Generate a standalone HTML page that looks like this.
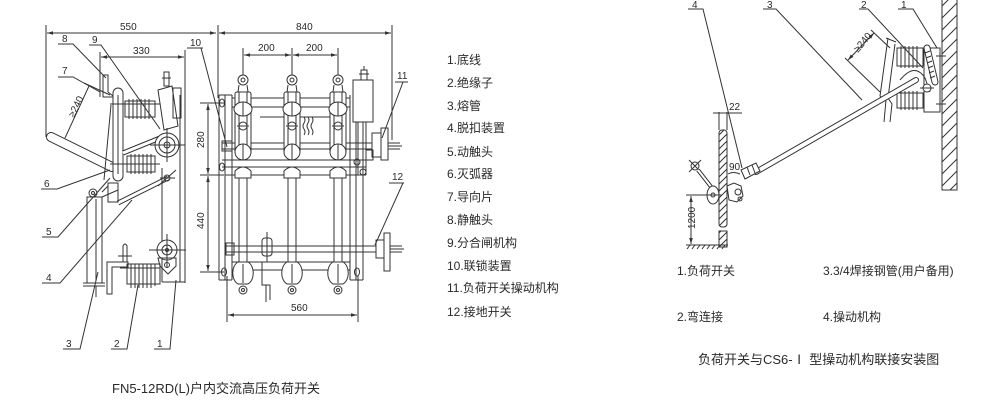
<!DOCTYPE html>
<html><head><meta charset="utf-8"><style>
html,body{margin:0;padding:0;background:#fff;}
svg{display:block}
text{font-family:"Liberation Sans","Noto Sans CJK SC",sans-serif;fill:#2a2a2a;}
</style></head><body>
<svg width="1000" height="406" viewBox="0 0 1000 406" xmlns="http://www.w3.org/2000/svg">
<defs>
<marker id="a" viewBox="0 0 10 10" refX="10" refY="5" markerWidth="6" markerHeight="6" orient="auto-start-reverse"><path d="M0,2 L10,5 L0,8z" fill="#333"/></marker>
<pattern id="h1" patternUnits="userSpaceOnUse" width="12" height="12"><path d="M-3,3 L3,-3 M0,12 L12,0 M9,15 L15,9" stroke="#333" stroke-width="1"/></pattern>
<pattern id="h2" patternUnits="userSpaceOnUse" width="7" height="7"><path d="M-2,2 L2,-2 M0,7 L7,0 M5,9 L9,5" stroke="#333" stroke-width="1"/></pattern>
</defs>
<rect width="1000" height="406" fill="#fff"/>

<!-- ================= LEFT SIDE VIEW ================= -->
<g fill="none" stroke="#333" stroke-width="1">
  <!-- dimensions -->
  <line x1="46" y1="25" x2="46" y2="137"/>
  <line x1="47" y1="33" x2="216" y2="33" marker-start="url(#a)" marker-end="url(#a)"/>
  <line x1="100" y1="52" x2="100" y2="97"/>
  <line x1="101" y1="57" x2="184" y2="57" marker-start="url(#a)" marker-end="url(#a)"/>
  <line x1="185" y1="50" x2="185" y2="283"/>

  <!-- handle bar -->
  <line x1="51" y1="137" x2="112" y2="167" stroke-width="10" stroke-linecap="round"/>
  <line x1="51" y1="137" x2="112" y2="167" stroke="#fff" stroke-width="8" stroke-linecap="round"/>

  <!-- guide 7 / >=240 -->
  <line x1="84" y1="83" x2="110" y2="95"/>
  <line x1="89" y1="86" x2="65" y2="138"/>
  <!-- static contact 8 -->
  <path d="M103,75 L108,75 L108,92 L113,96 M103,75 L103,97 L114,97"/>

  <!-- vertical blade loop -->
  <line x1="118" y1="93" x2="118" y2="176" stroke-width="11" stroke-linecap="round"/>
  <line x1="118" y1="93" x2="118" y2="176" stroke="#fff" stroke-width="9" stroke-linecap="round"/>
  <line x1="118" y1="95" x2="118" y2="174"/>
  <line x1="111" y1="105" x2="104" y2="180"/>

  <!-- upper insulator -->
  <rect x="125" y="101" width="30" height="16"/>
  <path d="M129,99 v20 M133,99 v20 M137,99 v20 M141,99 v20 M145,99 v20 M149,99 v20"/>
  <line x1="110" y1="104" x2="160" y2="104"/>
  <!-- lower insulator -->
  <rect x="127" y="156" width="28" height="16"/>
  <path d="M131,154 v20 M135,154 v20 M139,154 v20 M143,154 v20 M147,154 v20 M151,154 v20"/>
  <line x1="110" y1="164" x2="160" y2="164"/>

  <!-- fuse mechanism 9 -->
  <path d="M158,90 L172,86 L178,126 L164,130 Z"/>
  <path d="M164,72 h5 v14 h-5 z M162,78 h9"/>
  <rect x="173" y="88" width="8" height="30"/>

  <!-- diagonal bars -->
  <line x1="123" y1="153" x2="160" y2="138" stroke-width="5"/>
  <line x1="123" y1="153" x2="160" y2="138" stroke="#fff" stroke-width="3"/>
  <line x1="118" y1="203" x2="168" y2="178" stroke-width="5"/>
  <line x1="118" y1="203" x2="168" y2="178" stroke="#fff" stroke-width="3"/>

  <!-- big circle -->
  <circle cx="167" cy="145" r="12" fill="#fff"/>
  <circle cx="167" cy="145" r="8"/>
  <circle cx="167" cy="145" r="3"/>
  <line x1="150" y1="145" x2="185" y2="145"/>
  <line x1="167" y1="128" x2="167" y2="162"/>
  <circle cx="167" cy="178" r="3"/>
  <path d="M158,186 L176,170 M160,178 h15"/>

  <!-- right plate -->
  <line x1="162" y1="168" x2="162" y2="282"/>
  <line x1="180" y1="95" x2="180" y2="282"/>
  <line x1="162" y1="282" x2="185" y2="282"/>

  <!-- bottom circle -->
  <circle cx="167" cy="250" r="10" fill="#fff"/>
  <circle cx="167" cy="250" r="5"/>
  <circle cx="167" cy="250" r="1.5"/>
  <line x1="149" y1="250" x2="186" y2="250"/>
  <line x1="167" y1="234" x2="167" y2="268"/>
  <path d="M158,258 L176,258 L176,266 L168,274 L160,266 Z"/>
  <circle cx="167" cy="265" r="2.5"/>

  <!-- bottom insulator -->
  <rect x="127" y="264" width="33" height="20"/>
  <path d="M131,264 v24 M135,264 v24 M139,264 v24 M143,264 v24 M147,264 v24 M151,264 v24 M155,264 v22"/>
  <line x1="120" y1="268" x2="160" y2="268"/>

  <!-- L bracket -->
  <path d="M107,262 L128,262 L128,267 L112,267 L112,294 L107,294 Z"/>
  <path d="M123,262 L123,246 Q125,242 127,246 L127,262"/>
  <line x1="118" y1="256" x2="132" y2="256"/>

  <!-- left fuse tube -->
  <rect x="87" y="197" width="15" height="86"/>
  <line x1="96" y1="199" x2="96" y2="281"/>
  <line x1="83" y1="283" x2="105" y2="283"/>
  <line x1="83" y1="286" x2="105" y2="286"/>
  <line x1="96" y1="286" x2="96" y2="297"/>
  <circle cx="93" cy="193" r="4" fill="#fff"/>
  <circle cx="93" cy="193" r="1.5"/>
  <rect x="108" y="183" width="10" height="19"/>
  <path d="M102,197 L118,190 M102,192 L108,186"/>

  <!-- label leaders -->
  <path d="M58,44 H73 L106,78"/>
  <path d="M89,45 H101 L160,129"/>
  <path d="M58,77 H73 L100,92"/>
  <path d="M41,189 H57 L110,170"/>
  <path d="M42,237 H58 L110,178"/>
  <path d="M42,283 H60 L132,200"/>
  <path d="M63,349 H80 L98,272"/>
  <path d="M111,349 H127 L138,285"/>
  <path d="M154,349 H170 L176,280"/>
</g>
<g font-size="10">
  <text x="120" y="30">550</text>
  <text x="133" y="54">330</text>
  <text x="62" y="42">8</text>
  <text x="92" y="43">9</text>
  <text x="62" y="74">7</text>
  <text x="44" y="187">6</text>
  <text x="46" y="235">5</text>
  <text x="46" y="281">4</text>
  <text x="66" y="347">3</text>
  <text x="114" y="347">2</text>
  <text x="157" y="347">1</text>
  <text x="0" y="0" transform="translate(74,118) rotate(-64)">≥240</text>
</g>

<!-- ================= FRONT VIEW ================= -->
<g fill="none" stroke="#333" stroke-width="1">
  <!-- top dims -->
  <line x1="218" y1="25" x2="218" y2="98"/>
  <line x1="392" y1="25" x2="392" y2="140"/>
  <line x1="219" y1="33" x2="391" y2="33" marker-start="url(#a)" marker-end="url(#a)"/>
  <line x1="243" y1="48" x2="243" y2="75"/>
  <line x1="292" y1="48" x2="292" y2="75"/>
  <line x1="338" y1="48" x2="338" y2="75"/>
  <line x1="244" y1="55" x2="291" y2="55" marker-start="url(#a)" marker-end="url(#a)"/>
  <line x1="293" y1="55" x2="337" y2="55" marker-start="url(#a)" marker-end="url(#a)"/>

  <!-- side dims -->
  <line x1="200" y1="103" x2="224" y2="103"/>
  <line x1="200" y1="175" x2="224" y2="175"/>
  <line x1="200" y1="272" x2="224" y2="272"/>
  <line x1="208" y1="104" x2="208" y2="174" marker-start="url(#a)" marker-end="url(#a)"/>
  <line x1="208" y1="176" x2="208" y2="271" marker-start="url(#a)" marker-end="url(#a)"/>

  <!-- bottom dim -->
  <line x1="227" y1="276" x2="227" y2="322"/>
  <line x1="358" y1="276" x2="358" y2="322"/>
  <line x1="228" y1="315" x2="357" y2="315" marker-start="url(#a)" marker-end="url(#a)"/>

  <!-- frame -->
  <line x1="219" y1="95" x2="219" y2="280"/>
  <line x1="225" y1="95" x2="225" y2="280"/>
  <line x1="232" y1="95" x2="232" y2="280"/>
  <line x1="219" y1="95" x2="232" y2="95"/>
  <line x1="219" y1="280" x2="232" y2="280"/>
  <line x1="350" y1="95" x2="350" y2="280"/>
  <line x1="356" y1="100" x2="356" y2="280"/>
  <line x1="363" y1="120" x2="363" y2="280"/>
  <line x1="350" y1="280" x2="363" y2="280"/>
  <ellipse cx="222" cy="103" rx="2.5" ry="4"/>
  <ellipse cx="222" cy="167" rx="2.5" ry="4"/>
  <ellipse cx="224" cy="272" rx="2.5" ry="4"/>
  <ellipse cx="357" cy="272" rx="2.5" ry="4"/>
  <ellipse cx="357" cy="162" rx="3" ry="3"/>

  <!-- horizontal bars -->
  <line x1="232" y1="98" x2="350" y2="98"/>
  <line x1="232" y1="107" x2="350" y2="107"/>
  <line x1="260" y1="117" x2="330" y2="117"/>
  <line x1="222" y1="143" x2="400" y2="143"/>
  <line x1="222" y1="149" x2="400" y2="149"/>
  <rect x="222" y="141" width="10" height="10"/>
  <line x1="222" y1="160" x2="366" y2="160"/>
  <line x1="222" y1="167" x2="366" y2="167"/>
  <line x1="225" y1="175" x2="366" y2="175"/>
  <line x1="225" y1="246" x2="402" y2="246"/>
  <line x1="225" y1="252" x2="402" y2="252"/>
  <rect x="226" y="243" width="8" height="12"/>
  <line x1="232" y1="262" x2="350" y2="262"/>
  <line x1="232" y1="270" x2="350" y2="270"/>

  <!-- wavy lines -->
  <path d="M304,117 q2,3 0,6 q-2,3 0,6 q2,3 0,6 M308,117 q2,3 0,6 q-2,3 0,6 q2,3 0,6 M312,117 q2,3 0,6 q-2,3 0,6 q2,3 0,6"/>

  <!-- poles -->
  <g id="pole">
    <circle cx="243" cy="80" r="5" fill="#fff"/>
    <circle cx="243" cy="80" r="2"/>
    <path d="M239,85 L238,92 L248,92 L247,85"/>
    <rect x="235" y="92" width="16" height="62" rx="2" fill="#fff"/>
    <line x1="239" y1="92" x2="239" y2="154"/>
    <line x1="247" y1="92" x2="247" y2="154"/>
    <ellipse cx="243" cy="109" rx="9" ry="7" fill="#fff"/>
    <line x1="243" y1="102" x2="243" y2="116"/>
    <circle cx="243" cy="126" r="4" fill="#fff"/>
    <line x1="237" y1="126" x2="249" y2="126"/>
    <ellipse cx="243" cy="152" rx="8" ry="8" fill="#fff"/>
    <line x1="243" y1="144" x2="243" y2="160"/>
    <path d="M235,171 Q243,163 251,171 L251,178 L235,178 Z" fill="#fff"/>
    <line x1="239" y1="178" x2="239" y2="262"/>
    <line x1="247" y1="178" x2="247" y2="262"/>
    <path d="M238,262 C231,266 231,280 238,284 L248,284 C255,280 255,266 248,262 Z" fill="#fff"/>
    <line x1="243" y1="264" x2="243" y2="283"/>
    <circle cx="243" cy="290" r="4" fill="#fff"/>
    <circle cx="243" cy="290" r="1.5"/>
  </g>
  <use href="#pole" x="49"/>
  <use href="#pole" x="95"/>

  <!-- small parts between poles -->
  <rect x="262" y="238" width="10" height="18" rx="3"/>
  <line x1="267" y1="232" x2="267" y2="262"/>
  <path d="M262,262 V285 H270 V300 M266,285 V302"/>

  <!-- mechanism 11 -->
  <rect x="353" y="80" width="20" height="42" fill="#fff"/>
  <path d="M361,80 V70 H367 V80 M359,74 H369 M364,66 V70"/>
  <line x1="358" y1="122" x2="358" y2="175"/>
  <line x1="366" y1="122" x2="366" y2="175"/>
  <rect x="372" y="133" width="9" height="24" fill="#fff"/>
  <rect x="381" y="128" width="7" height="32" fill="#fff"/>
  <line x1="388" y1="146" x2="402" y2="146"/>
  <rect x="366" y="150" width="7" height="10"/>
  <circle cx="363" cy="172" r="3"/>

  <!-- grounding 12 -->
  <rect x="376" y="240" width="8" height="18" fill="#fff"/>
  <rect x="384" y="233" width="6" height="38" fill="#fff"/>
  <line x1="390" y1="249" x2="404" y2="249"/>

  <!-- labels -->
  <path d="M187,48 H203 M201,48 L227,147"/>
  <path d="M395,82 H408 M403,82 L382,138"/>
  <path d="M389,183 H404 M403,183 L375,245"/>
</g>
<g font-size="10">
  <text x="296" y="30">840</text>
  <text x="258" y="51">200</text>
  <text x="306" y="51">200</text>
  <text x="291" y="311">560</text>
  <text x="190" y="46">10</text>
  <text x="397" y="79">11</text>
  <text x="392" y="180">12</text>
  <text x="0" y="0" transform="translate(204,148) rotate(-90)">280</text>
  <text x="0" y="0" transform="translate(204,229) rotate(-90)">440</text>
</g>

<!-- ================= PARTS LIST ================= -->
<g font-size="12">
  <text x="447" y="64">1.底线</text>
  <text x="447" y="87">2.绝缘子</text>
  <text x="447" y="110">3.熔管</text>
  <text x="447" y="132">4.脱扣装置</text>
  <text x="447" y="156">5.动触头</text>
  <text x="447" y="178">6.灭弧器</text>
  <text x="447" y="201">7.导向片</text>
  <text x="447" y="224">8.静触头</text>
  <text x="447" y="247">9.分合闸机构</text>
  <text x="447" y="270">10.联锁装置</text>
  <text x="447" y="292">11.负荷开关操动机构</text>
  <text x="447" y="316">12.接地开关</text>
</g>

<!-- ================= RIGHT INSTALLATION VIEW ================= -->
<g fill="none" stroke="#333" stroke-width="1">
  <!-- wall -->
  <rect x="942" y="-2" width="15" height="192" fill="url(#h1)"/>
  <!-- switch base box -->
  <rect x="924" y="48" width="16" height="64" fill="#fff"/>
  <line x1="936" y1="56" x2="946" y2="56"/>
  <line x1="936" y1="104" x2="946" y2="104"/>
  <!-- insulators -->
  <rect x="897" y="48" width="26" height="18" fill="#fff"/>
  <path d="M901,46 v22 M905,46 v22 M909,46 v22 M913,46 v22 M917,46 v22"/>
  <rect x="897" y="93" width="26" height="15" fill="#fff"/>
  <path d="M901,91 v19 M905,91 v19 M909,91 v19 M913,91 v19 M917,91 v19"/>
  <!-- frame plate -->
  <path d="M888,38 L880,96 L886,100 L884,122 M895,44 L888,98 L892,104 L890,122"/>
  <path d="M886,38 L896,42"/>
  <!-- fuse spring -->
  <line x1="927" y1="48" x2="935" y2="82" stroke-width="7" stroke-linecap="round"/>
  <line x1="927" y1="48" x2="935" y2="82" stroke="#fff" stroke-width="5" stroke-linecap="round"/>
  <path d="M925,53 l5,-2 M926,58 l5,-2 M927,63 l5,-2 M928,68 l5,-2 M929,73 l5,-2 M930,78 l5,-2"/>
  <path d="M900,80 Q915,62 925,78 L930,92"/>
  <circle cx="927" cy="88" r="4" fill="#fff"/>
  <line x1="920" y1="88" x2="934" y2="88"/>
  <!-- long rod -->
  <line x1="756" y1="172" x2="916" y2="80" stroke-width="6" stroke-linecap="round"/>
  <line x1="756" y1="172" x2="916" y2="80" stroke="#fff" stroke-width="4" stroke-linecap="round"/>
  <path d="M741,170 L756,163 L760,171 L745,179 Z" fill="#fff"/>
  <path d="M747,167 l3,8 M752,165 l3,8"/>
  <!-- >=240 dim -->
  <line x1="848" y1="60" x2="874" y2="33" marker-start="url(#a)" marker-end="url(#a)"/>
  <line x1="845" y1="58" x2="880" y2="92"/>
  <line x1="871" y1="30" x2="890" y2="48"/>
  <!-- operating panel -->
  <rect x="719" y="130" width="8" height="97" rx="3" fill="url(#h2)"/>
  <rect x="719" y="231" width="8" height="16" fill="url(#h2)"/>
  <!-- 22 dim -->
  <line x1="719" y1="112" x2="719" y2="130"/>
  <line x1="727" y1="112" x2="727" y2="130"/>
  <line x1="713" y1="113" x2="742" y2="113"/>
  <!-- handle -->
  <circle cx="695" cy="166" r="4"/>
  <path d="M689,160 l12,12 M701,160 l-12,12"/>
  <line x1="698" y1="170" x2="712" y2="188" stroke-width="4"/>
  <line x1="698" y1="170" x2="712" y2="188" stroke="#fff" stroke-width="2"/>
  <ellipse cx="713" cy="195" rx="6" ry="9" fill="#fff"/>
  <circle cx="713" cy="195" r="2"/>
  <path d="M727,186 L734,183 L741,186 L743,196 L737,202 L729,200 Z" fill="#fff"/>
  <circle cx="738" cy="192" r="3"/>
  <circle cx="740" cy="199" r="2"/>
  <!-- 90 arc -->
  <path d="M728,174 Q733,171 740,174"/>
  <!-- 1200 dim -->
  <line x1="686" y1="195" x2="722" y2="195"/>
  <line x1="691" y1="196" x2="691" y2="244" marker-start="url(#a)" marker-end="url(#a)"/>
  <line x1="686" y1="245" x2="728" y2="245"/>
  <path d="M690,245 l-3,4 M695,245 l-3,4 M700,245 l-3,4 M705,245 l-3,4 M710,245 l-3,4 M715,245 l-3,4 M720,245 l-3,4 M725,245 l-3,4"/>
  <!-- leaders -->
  <path d="M688,9 H703 L742,168"/>
  <path d="M763,9 H776 L862,100"/>
  <path d="M859,9 H868 L923,68"/>
  <path d="M898,9 H913 L937,48"/>
</g>
<g font-size="10">
  <text x="692" y="8">4</text>
  <text x="767" y="8">3</text>
  <text x="861" y="8">2</text>
  <text x="901" y="8">1</text>
  <text x="729" y="110">22</text>
  <text x="729" y="170">90</text>
  <text x="0" y="0" transform="translate(695,229) rotate(-90)">1200</text>
  <text x="0" y="0" transform="translate(858,53) rotate(-50)">≥240</text>
</g>

<g font-size="12">
  <text x="677" y="275">1.负荷开关</text>
  <text x="823" y="275">3.3/4焊接钢管(用户备用)</text>
  <text x="677" y="321">2.弯连接</text>
  <text x="823" y="321">4.操动机构</text>
</g>
<text x="698" y="364" font-size="13">负荷开关与CS6-Ⅰ 型操动机构联接安装图</text>
<text x="112" y="393" font-size="13">FN5-12RD(L)户内交流高压负荷开关</text>
</svg>
</body></html>
